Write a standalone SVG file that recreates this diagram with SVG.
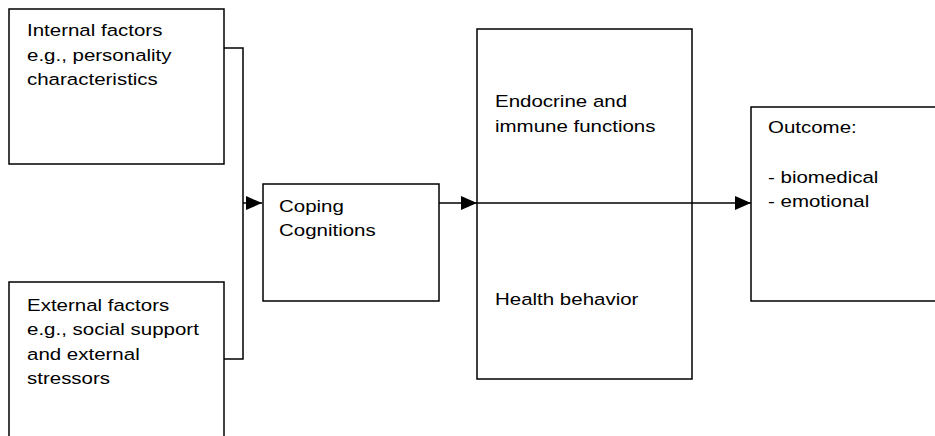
<svg xmlns="http://www.w3.org/2000/svg" width="935" height="436" viewBox="0 0 935 436">
<defs>
<style>
.box{fill:#fff;stroke:#000;stroke-width:1.5}
.lbl{font-family:"Liberation Sans",Arial,sans-serif;font-size:16.8px;fill:#000}
.con{fill:none;stroke:#000;stroke-width:1.5}
</style>
<marker id="ah" markerUnits="userSpaceOnUse" markerWidth="17" markerHeight="15" refX="16" refY="7" orient="auto">
<path d="M0,0 L16,7 L0,14 Z" fill="#000"/>
</marker>
</defs>
<rect width="935" height="436" fill="#fff"/>
<g id="internal">
<rect class="box" x="9" y="9" width="215" height="155"/>
<text class="lbl" transform="translate(27,36) scale(1.22,1)"><tspan x="0" y="0">Internal factors</tspan><tspan x="0" y="24.7">e.g., personality</tspan><tspan x="0" y="49.4">characteristics</tspan></text>
</g>
<g id="external">
<rect class="box" x="9" y="282" width="215" height="170"/>
<text class="lbl" transform="translate(27,310.5) scale(1.22,1)"><tspan x="0" y="0">External factors</tspan><tspan x="0" y="24.6">e.g., social support</tspan><tspan x="0" y="49.2">and external</tspan><tspan x="0" y="73.8">stressors</tspan></text>
</g>
<g id="coping">
<rect class="box" x="263" y="184" width="176" height="117"/>
<text class="lbl" transform="translate(279,211.5) scale(1.22,1)"><tspan x="0" y="0">Coping</tspan><tspan x="0" y="25">Cognitions</tspan></text>
</g>
<g id="mediators">
<rect class="box" x="477" y="29" width="215" height="350"/>
<text class="lbl" transform="translate(495,107.3) scale(1.22,1)"><tspan x="0" y="0">Endocrine and</tspan><tspan x="0" y="24.4">immune functions</tspan></text>
<text class="lbl" transform="translate(495,305) scale(1.22,1)">Health behavior</text>
</g>
<g id="outcome">
<rect class="box" x="751" y="107" width="200" height="194"/>
<text class="lbl" transform="translate(768,133.3) scale(1.22,1)"><tspan x="0" y="0">Outcome:</tspan><tspan x="0" y="50">- biomedical</tspan><tspan x="0" y="74">- emotional</tspan></text>
</g>
<g id="connectors">
<path class="con" d="M224,48 H243 V359 H224"/>
<path class="con" d="M243,203 H262" marker-end="url(#ah)"/>
<path class="con" d="M439,203 H477" marker-end="url(#ah)"/>
<path class="con" d="M477,203 H751" marker-end="url(#ah)"/>
</g>
</svg>
